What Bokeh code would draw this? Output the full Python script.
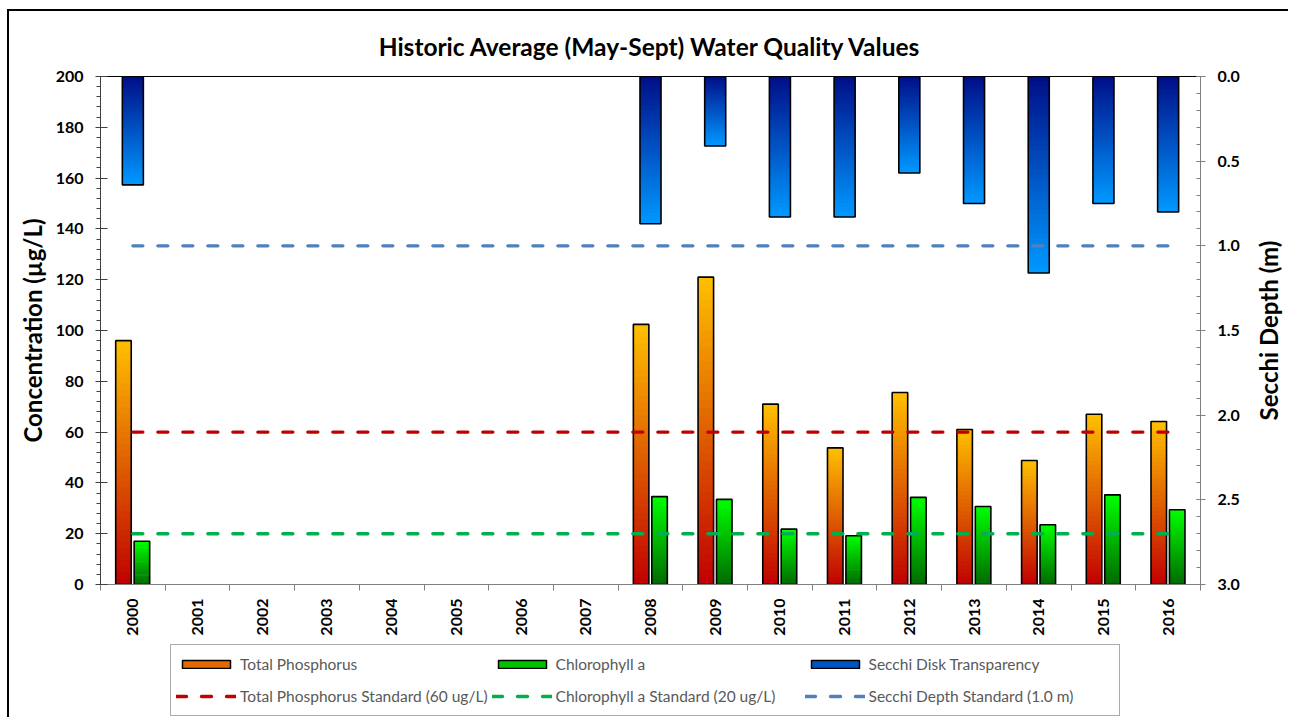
from math import pi
from bokeh.plotting import figure
from bokeh.layouts import column, row
from bokeh.models import (Range1d, LinearAxis, SingleIntervalTicker, FixedTicker, Title,
                          NumeralTickFormatter, Legend, LegendItem, ColumnDataSource)
from bokeh.transform import dodge
from bokeh.embed import file_html
from bokeh.resources import INLINE

# ---------------- data ----------------
all_years = list(range(2000, 2017))
years = [2000, 2008, 2009, 2010, 2011, 2012, 2013, 2014, 2015, 2016]
total_phosphorus = [96, 102.4, 121, 71, 53.8, 75.6, 61, 48.8, 67, 64.2]
chlorophyll_a = [17, 34.6, 33.5, 21.8, 19.2, 34.3, 30.7, 23.5, 35.3, 29.4]
secchi_depth = [0.64, 0.87, 0.41, 0.83, 0.83, 0.57, 0.75, 1.16, 0.75, 0.80]
tp_standard = 60
chl_standard = 20
secchi_standard = 1.0

title_text = "Historic Average (May-Sept) Water Quality Values"
left_label = "Concentration (µg/L)"
right_label = "Secchi Depth (m)"
legend_labels = ["Total Phosphorus", "Chlorophyll a", "Secchi Disk Transparency",
                 "Total Phosphorus Standard (60 ug/L)", "Chlorophyll a Standard (20 ug/L)",
                 "Secchi Depth Standard (1.0 m)"]

# ---------------- styles ----------------
FONT = "Lato"
TP_BASE, TP_TIP = "#C00000", "#FFC000"
CHL_BASE, CHL_TIP = "#006A00", "#00FF00"
SEC_BASE, SEC_TIP = "#000E88", "#0099FF"
TP_STD_COLOR, CHL_STD_COLOR, SEC_STD_COLOR = "#C00000", "#00B050", "#4F81BD"
N_SEG = 40
NAN = float("nan")


def _rgb(h):
    return tuple(int(h[i:i + 2], 16) for i in (1, 3, 5))


def blend(c0, c1, t):
    a, b = _rgb(c0), _rgb(c1)
    return "#%02x%02x%02x" % tuple(int(round(a[i] + (b[i] - a[i]) * t)) for i in range(3))


def gradient_source(xs, vals, base, tip):
    gx, gb, gt, gc = [], [], [], []
    for x, v in zip(xs, vals):
        for k in range(N_SEG):
            gx.append(x)
            gb.append(v * k / N_SEG)
            gt.append(min(v, v * (k + 1.6) / N_SEG))
            gc.append(blend(base, tip, (k + 0.5) / N_SEG))
    return ColumnDataSource(dict(x=gx, bottom=gb, top=gt, color=gc))


def no_align(fig):
    if "frame_align" in fig.properties():
        fig.frame_align = False
        return True
    return False


p = figure(width=1250, height=640, output_backend="svg", toolbar_location=None,
           x_range=Range1d(all_years[0] - 0.5, all_years[-1] + 0.5),
           y_range=Range1d(0, 200))
p.extra_y_ranges = {"secchi": Range1d(3.0, 0.0)}
p.min_border_left = 100
p.min_border_right = 50
p.min_border_top = 76
p.min_border_bottom = 56
p.xgrid.visible = False
p.ygrid.visible = False
p.outline_line_color = "black"
p.outline_line_width = 1
p.background_fill_color = "white"
p.border_fill_alpha = 0
no_align(p)

# title
p.add_layout(Title(text=title_text, align="center", text_font=FONT, text_font_style="bold",
                   text_font_size="24.5px", text_color="black", standoff=31), "above")

# left axis
ya = p.yaxis[0]
ya.ticker = SingleIntervalTicker(interval=20, num_minor_ticks=5)
ya.major_label_text_font = FONT
ya.major_label_text_font_style = "bold"
ya.major_label_text_font_size = "16px"
ya.major_label_text_color = "black"
ya.axis_line_color = "#404040"
ya.major_tick_line_color = "#404040"
ya.minor_tick_line_color = "#404040"
ya.major_tick_out = 5
ya.major_tick_in = 7
ya.minor_tick_out = 4
ya.minor_tick_in = 0
ya.major_label_standoff = 12
ya.axis_label = left_label
ya.axis_label_text_font = FONT
ya.axis_label_text_font_style = "bold"
ya.axis_label_text_font_size = "24px"
ya.axis_label_text_color = "black"
ya.axis_label_standoff = 6

# right axis
ra = LinearAxis(y_range_name="secchi", ticker=SingleIntervalTicker(interval=0.5, num_minor_ticks=5),
                formatter=NumeralTickFormatter(format="0.0"))
ra.major_label_text_font = FONT
ra.major_label_text_font_style = "bold"
ra.major_label_text_font_size = "16px"
ra.major_label_text_color = "black"
ra.axis_line_color = "#808080"
ra.major_tick_line_color = "#808080"
ra.minor_tick_line_color = "#808080"
ra.major_tick_out = 5
ra.major_tick_in = 4
ra.minor_tick_out = 0
ra.minor_tick_in = 4
ra.major_label_standoff = 12
p.add_layout(ra, "right")

# x axis
xa = p.xaxis[0]
xa.ticker = FixedTicker(ticks=all_years, minor_ticks=[y - 0.5 for y in all_years] + [all_years[-1] + 0.5])
xa.major_label_overrides = {y: str(y) for y in all_years}
xa.major_label_orientation = pi / 2
xa.major_label_text_font = FONT
xa.major_label_text_font_style = "bold"
xa.major_label_text_font_size = "16px"
xa.major_label_text_color = "black"
xa.axis_line_color = "#808080"
xa.major_tick_in = 0
xa.major_tick_out = 0
xa.minor_tick_in = 0
xa.minor_tick_out = 6
xa.minor_tick_line_color = "#808080"
xa.major_label_standoff = 8

TP_OFF, CHL_OFF, BAR_W, SEC_W = -0.145, 0.14, 0.24, 0.325

# secchi bars (hanging from top on reversed right axis)
src_sec = gradient_source(years, secchi_depth, SEC_BASE, SEC_TIP)
p.vbar(x="x", top="bottom", bottom="top", width=SEC_W, source=src_sec, y_range_name="secchi",
       fill_color="color", line_color=None)
p.vbar(x=years, top=[0] * len(years), bottom=secchi_depth, width=SEC_W, y_range_name="secchi",
       fill_color=None, line_color="black", line_width=1.6)

# TP bars
src_tp = gradient_source(years, total_phosphorus, TP_BASE, TP_TIP)
p.vbar(x=dodge("x", TP_OFF, range=p.x_range), top="top", bottom="bottom", width=BAR_W, source=src_tp,
       fill_color="color", line_color=None)
src_tp_o = ColumnDataSource(dict(x=years, top=total_phosphorus))
p.vbar(x=dodge("x", TP_OFF, range=p.x_range), top="top", bottom=0, width=BAR_W, source=src_tp_o,
       fill_color=None, line_color="black", line_width=1.6)

# Chl bars
src_chl = gradient_source(years, chlorophyll_a, CHL_BASE, CHL_TIP)
p.vbar(x=dodge("x", CHL_OFF, range=p.x_range), top="top", bottom="bottom", width=BAR_W, source=src_chl,
       fill_color="color", line_color=None)
src_chl_o = ColumnDataSource(dict(x=years, top=chlorophyll_a))
p.vbar(x=dodge("x", CHL_OFF, range=p.x_range), top="top", bottom=0, width=BAR_W, source=src_chl_o,
       fill_color=None, line_color="black", line_width=1.6)

# standard lines
DASH = "10 15"
LW = 3.4
p.line(all_years, [tp_standard] * len(all_years), line_color=TP_STD_COLOR, line_width=LW,
       line_dash=DASH, line_cap="round")
p.line(all_years, [chl_standard] * len(all_years), line_color=CHL_STD_COLOR, line_width=LW,
       line_dash=DASH, line_cap="round")
p.line(all_years, [secchi_standard] * len(all_years), y_range_name="secchi",
       line_color=SEC_STD_COLOR, line_width=LW, line_dash=DASH, line_cap="round")

# ---------------- right-hand axis title strip (reads bottom-to-top) ----------------
p3 = figure(width=38, height=640, output_backend="svg", toolbar_location=None,
            x_range=Range1d(0, 1), y_range=Range1d(0, 1), x_axis_location=None)
p3.min_border_left = 0
p3.min_border_right = 0
p3.min_border_top = 76
p3.min_border_bottom = 56
p3.grid.visible = False
p3.outline_line_color = None
p3.background_fill_alpha = 0
p3.border_fill_alpha = 0
no_align(p3)
ta = p3.yaxis[0]
ta.ticker = FixedTicker(ticks=[])
ta.axis_line_color = None
ta.major_tick_line_color = None
ta.minor_tick_line_color = None
ta.major_tick_out = 0
ta.major_tick_in = 0
ta.minor_tick_out = 0
ta.minor_tick_in = 0
ta.major_label_standoff = 0
ta.axis_label = right_label
ta.axis_label_text_font = FONT
ta.axis_label_text_font_style = "bold"
ta.axis_label_text_font_size = "24px"
ta.axis_label_text_color = "black"
ta.axis_label_standoff = 0

# ---------------- legend strip ----------------
p2 = figure(width=1288, height=77, output_backend="svg", toolbar_location=None,
            x_range=Range1d(0, 1), y_range=Range1d(0, 1), min_border=0,
            x_axis_location=None, y_axis_location=None)
p2.grid.visible = False
p2.outline_line_color = None
p2.background_fill_alpha = 0
p2.border_fill_alpha = 0
legend_x = 170 if no_align(p2) else 70

g_tp = p2.vbar(x=[NAN], top=[NAN], width=0.1, fill_color=blend(TP_BASE, TP_TIP, 0.55), line_color="black", line_width=1.5)
g_chl = p2.vbar(x=[NAN], top=[NAN], width=0.1, fill_color=blend(CHL_BASE, CHL_TIP, 0.6), line_color="black", line_width=1.5)
g_sec = p2.vbar(x=[NAN], top=[NAN], width=0.1, fill_color=blend(SEC_BASE, SEC_TIP, 0.5), line_color="black", line_width=1.5)
l_tp = p2.line([NAN], [NAN], line_color=TP_STD_COLOR, line_width=LW, line_dash=DASH, line_cap="round")
l_chl = p2.line([NAN], [NAN], line_color=CHL_STD_COLOR, line_width=LW, line_dash=DASH, line_cap="round")
l_sec = p2.line([NAN], [NAN], line_color=SEC_STD_COLOR, line_width=LW, line_dash=DASH, line_cap="round")

legend = Legend(items=[LegendItem(label=legend_labels[0], renderers=[g_tp]),
                       LegendItem(label=legend_labels[1], renderers=[g_chl]),
                       LegendItem(label=legend_labels[2], renderers=[g_sec]),
                       LegendItem(label=legend_labels[3], renderers=[l_tp]),
                       LegendItem(label=legend_labels[4], renderers=[l_chl]),
                       LegendItem(label=legend_labels[5], renderers=[l_sec])],
                location=(legend_x, 1), orientation="horizontal", ncols=3)
legend.label_text_font = FONT
legend.label_text_font_size = "15.5px"
legend.label_text_color = "#595959"
legend.glyph_width = 60
legend.glyph_height = 10
legend.label_height = 28
legend.label_width = 245
legend.label_standoff = 4
legend.spacing = 4
legend.padding = 5
legend.margin = 0
legend.border_line_color = "#595959"
legend.border_line_width = 1
legend.background_fill_color = "white"
legend.background_fill_alpha = 1
p2.add_layout(legend, "center")

layout = column(row(p, p3, spacing=0), p2, spacing=0)
layout.styles = {"background": "linear-gradient(#000, #000) 7px 9px / 2px calc(100% - 9px) no-repeat, "
                               "linear-gradient(#000, #000) 7px 9px / calc(100% - 7px) 2px no-repeat"}

open("out.html", "w").write(file_html(layout, INLINE))
